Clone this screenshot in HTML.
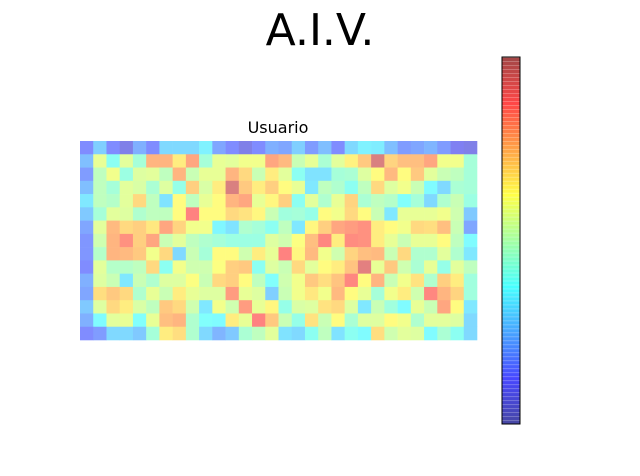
<!DOCTYPE html>
<html><head><meta charset="utf-8"><style>
html,body{margin:0;padding:0;background:#fff;}
svg{display:block;font-family:"DejaVu Sans","Liberation Sans",sans-serif;}
</style></head><body>
<svg id="chart" width="640" height="476" viewBox="0 0 640 476">
<text x="320" y="45" text-anchor="middle" font-size="44" fill="#000">A.I.V.</text>
<text x="278" y="133" text-anchor="middle" font-size="16" fill="#000">Usuario</text>
<g id="cells"></g>
<g id="cbar"></g>
</svg>
<script>
const rowsLeft = [
[0.15,0.28,0.15,0.08,0.22,0.15,0.3,0.3,0.3,0.35,0.2,0.15,0.08,0.15,0.22],
[0.25,0.58,0.4,0.57,0.45,0.77,0.77,0.66,0.8,0.45,0.58,0.57,0.6,0.6,0.8],
[0.18,0.5,0.6,0.43,0.56,0.57,0.5,0.77,0.52,0.58,0.58,0.77,0.7,0.52,0.66],
[0.25,0.5,0.45,0.57,0.55,0.46,0.56,0.42,0.72,0.55,0.66,0.95,0.73,0.66,0.72],
[0.33,0.5,0.48,0.57,0.7,0.5,0.32,0.63,0.5,0.58,0.63,0.77,0.8,0.58,0.64],
[0.27,0.45,0.57,0.56,0.47,0.5,0.5,0.63,0.87,0.63,0.63,0.7,0.68,0.64,0.52],
[0.2,0.57,0.76,0.7,0.72,0.67,0.8,0.71,0.6,0.6,0.36,0.32,0.47,0.45,0.4],
[0.17,0.53,0.77,0.84,0.72,0.8,0.52,0.57,0.5,0.47,0.45,0.43,0.43,0.43,0.56],
[0.17,0.48,0.77,0.76,0.73,0.6,0.7,0.3,0.52,0.45,0.63,0.63,0.53,0.66,0.58],
[0.15,0.57,0.48,0.48,0.5,0.7,0.4,0.6,0.53,0.53,0.62,0.72,0.73,0.4,0.56],
[0.22,0.56,0.52,0.33,0.52,0.47,0.56,0.56,0.62,0.52,0.7,0.72,0.63,0.5,0.38],
[0.2,0.69,0.73,0.7,0.47,0.58,0.52,0.66,0.58,0.56,0.56,0.82,0.58,0.56,0.28],
[0.27,0.56,0.7,0.66,0.55,0.5,0.73,0.7,0.53,0.33,0.6,0.53,0.82,0.58,0.64],
[0.22,0.37,0.57,0.58,0.38,0.58,0.75,0.77,0.47,0.38,0.37,0.66,0.58,0.87,0.73],
[0.15,0.18,0.3,0.3,0.27,0.45,0.66,0.69,0.47,0.3,0.23,0.27,0.46,0.5,0.57]
];
const rowsRight = [
[0.2,0.28,0.18,0.25,0.15,0.3,0.35,0.34,0.25,0.18,0.2,0.23,0.18,0.1,0.08],
[0.76,0.52,0.58,0.46,0.57,0.65,0.73,0.95,0.71,0.75,0.75,0.8,0.6,0.6,0.45],
[0.57,0.4,0.32,0.32,0.45,0.46,0.56,0.63,0.76,0.63,0.73,0.57,0.52,0.5,0.45],
[0.63,0.58,0.33,0.5,0.47,0.4,0.5,0.7,0.56,0.6,0.52,0.37,0.3,0.46,0.45],
[0.72,0.4,0.57,0.47,0.58,0.71,0.46,0.5,0.48,0.38,0.45,0.3,0.47,0.52,0.43],
[0.44,0.45,0.42,0.63,0.6,0.7,0.63,0.52,0.33,0.58,0.58,0.58,0.6,0.53,0.27],
[0.5,0.33,0.64,0.72,0.8,0.82,0.84,0.66,0.63,0.6,0.7,0.69,0.75,0.52,0.2],
[0.53,0.62,0.75,0.86,0.66,0.85,0.84,0.66,0.58,0.52,0.58,0.58,0.63,0.5,0.37],
[0.87,0.64,0.76,0.6,0.53,0.71,0.75,0.76,0.52,0.7,0.47,0.47,0.57,0.47,0.33],
[0.52,0.7,0.57,0.63,0.66,0.74,0.93,0.58,0.73,0.53,0.46,0.58,0.42,0.57,0.5],
[0.53,0.6,0.73,0.69,0.74,0.86,0.63,0.77,0.52,0.6,0.68,0.47,0.72,0.66,0.44],
[0.52,0.6,0.67,0.6,0.76,0.63,0.58,0.45,0.6,0.66,0.53,0.86,0.77,0.71,0.44],
[0.42,0.55,0.56,0.68,0.7,0.56,0.33,0.52,0.44,0.37,0.58,0.52,0.8,0.63,0.33],
[0.52,0.42,0.68,0.52,0.63,0.46,0.56,0.56,0.63,0.6,0.47,0.57,0.57,0.56,0.3],
[0.32,0.3,0.4,0.5,0.32,0.4,0.37,0.69,0.53,0.57,0.56,0.37,0.46,0.4,0.3]
];
const colorRange = [0, 1];

const NS = "http://www.w3.org/2000/svg";
const X0 = 80, X1 = 477, Y0 = 141, Y1 = 340;
function jet(v, a){
  const t = Math.max(0, Math.min(1, (v - colorRange[0]) / (colorRange[1] - colorRange[0])));
  const c = x => Math.max(0, Math.min(1, 1.5 - Math.abs(x)));
  const r = c(4*t-3), g = c(4*t-2), b = c(4*t-1);
  const m = u => Math.round(255*(a*u + 1 - a));
  return `rgb(${m(r)},${m(g)},${m(b)})`;
}
const grid = rowsLeft.map((r, i) => r.concat(rowsRight[i]));
const nRows = grid.length, nCols = grid[0].length;
const xScale = j => X0 + (X1 - X0) * j / nCols;
const yScale = i => Y0 + (Y1 - Y0) * i / nRows;
const cells = document.getElementById('cells');
grid.forEach((row, i) => row.forEach((v, j) => {
  const r = document.createElementNS(NS, 'rect');
  r.setAttribute('x', xScale(j));
  r.setAttribute('y', yScale(i));
  r.setAttribute('width', xScale(j+1) - xScale(j) + 0.3);
  r.setAttribute('height', yScale(i+1) - yScale(i) + 0.3);
  r.setAttribute('fill', jet(v, 0.5));
  
  
  cells.appendChild(r);
}));

// colorbar
const cb = document.getElementById('cbar');
const CX = 502, CW = 18, CY0 = 57, CY1 = 424, NB = 92;
for (let k = 0; k < NB; k++) {
  const v = (k + 0.5) / NB;
  const y = CY1 - (CY1 - CY0) * (k + 1) / NB;
  const h = (CY1 - CY0) / NB;
  const r = document.createElementNS(NS, 'rect');
  r.setAttribute('x', CX); r.setAttribute('y', y);
  r.setAttribute('width', CW); r.setAttribute('height', h + 0.2);
  r.setAttribute('fill', jet(v, 0.72));
  
  
  cb.appendChild(r);
  const l = document.createElementNS(NS, 'rect');
  l.setAttribute('x', CX); l.setAttribute('y', y);
  l.setAttribute('width', CW); l.setAttribute('height', 1);
  l.setAttribute('fill', '#fff'); l.setAttribute('fill-opacity', '0.3');
  
  
  cb.appendChild(l);
}
const border = document.createElementNS(NS, 'rect');
border.setAttribute('x', CX); border.setAttribute('y', CY0);
border.setAttribute('width', CW); border.setAttribute('height', CY1 - CY0);
border.setAttribute('fill', 'none'); border.setAttribute('stroke', '#000'); border.setAttribute('stroke-width', '1');


cb.appendChild(border);
</script>
</body></html>
